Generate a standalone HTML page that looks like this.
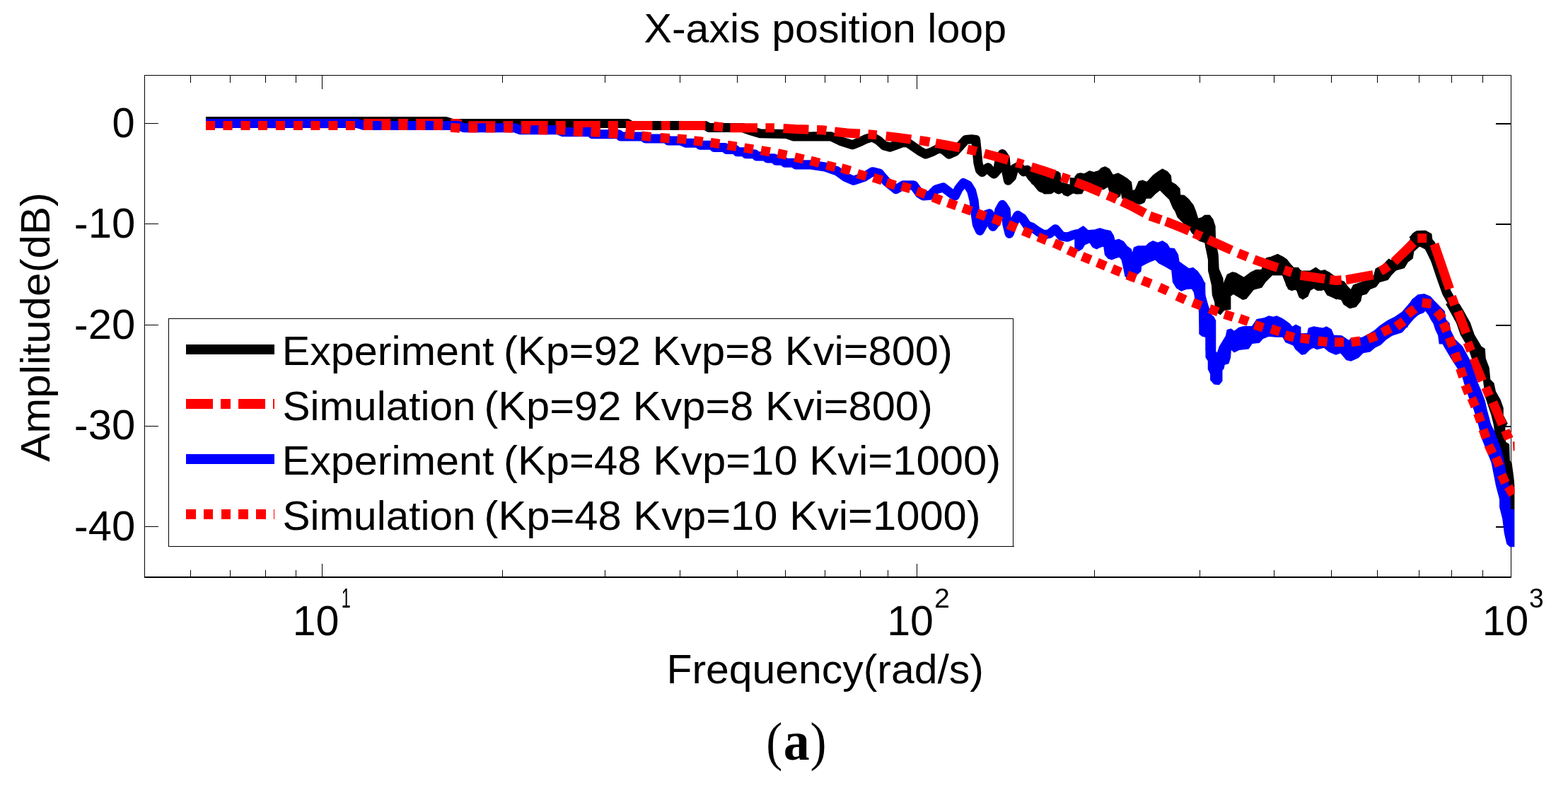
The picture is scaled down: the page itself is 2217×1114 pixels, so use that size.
<!DOCTYPE html>
<html lang="en"><head><meta charset="utf-8"><title>X-axis position loop</title>
<style>html,body{margin:0;padding:0;background:#fff;overflow:hidden}svg{display:block}text{font-family:"Liberation Sans", Arial, Helvetica, sans-serif;fill:#000}</style></head><body>
<svg width="2217" height="1114" viewBox="0 0 2217 1114">
<rect x="0" y="0" width="2217" height="1114" fill="#fff"/>
<g stroke="#000" fill="none" shape-rendering="crispEdges">
<path stroke-width="1" d="M204.5,816.0 V106.5 H2136.5 V816.0"/>
<path stroke-width="2" d="M204.0,816.0 H2137.0"/>
<path stroke-width="1" d="M269.5,106.5 v10 M269.5,816.0 v-10.5 M325.5,106.5 v10 M325.5,816.0 v-10.5 M375.5,106.5 v10 M375.5,816.0 v-10.5 M418.5,106.5 v10 M418.5,816.0 v-10.5 M455.5,106.5 v19 M455.5,816.0 v-19.5 M710.5,106.5 v10 M710.5,816.0 v-10.5 M855.5,106.5 v10 M855.5,816.0 v-10.5 M961.5,106.5 v10 M961.5,816.0 v-10.5 M1042.5,106.5 v10 M1042.5,816.0 v-10.5 M1110.5,106.5 v10 M1110.5,816.0 v-10.5 M1166.5,106.5 v10 M1166.5,816.0 v-10.5 M1216.5,106.5 v10 M1216.5,816.0 v-10.5 M1255.5,106.5 v10 M1255.5,816.0 v-10.5 M1296.5,106.5 v19 M1296.5,816.0 v-19.5 M1547.5,106.5 v10 M1547.5,816.0 v-10.5 M1696.5,106.5 v10 M1696.5,816.0 v-10.5 M1801.5,106.5 v10 M1801.5,816.0 v-10.5 M1882.5,106.5 v10 M1882.5,816.0 v-10.5 M1947.5,106.5 v10 M1947.5,816.0 v-10.5 M2006.5,106.5 v10 M2006.5,816.0 v-10.5 M2052.5,106.5 v10 M2052.5,816.0 v-10.5 M2096.5,106.5 v10 M2096.5,816.0 v-10.5 M204.5,174.5 h19.5 M204.5,316.5 h19.5 M204.5,459.5 h19.5 M204.5,602.5 h19.5 M204.5,744.5 h19.5"/>
<path stroke-width="2" d="M2137.0,175.0 h-22 M2137.0,317.0 h-22 M2137.0,460.0 h-22 M2137.0,603.0 h-22 M2137.0,745.0 h-22"/>
</g>
<defs><clipPath id="c"><rect x="204.5" y="106.5" width="1937.0" height="709.5"/></clipPath></defs>
<g clip-path="url(#c)" stroke-linejoin="round">
<path fill="none" stroke="#000" stroke-width="13.1" d="M291.0,171.5 L630.0,171.5 L640.0,174.5 L800.0,174.5 L887.5,174.5 L892.5,177.5 L997.4,177.5 L1002.4,180.5 L1049.9,180.5 L1062.4,185.0 L1074.9,188.7 L1112.4,189.5 L1122.4,193.0 L1147.3,193.0 L1150.0,192.9 L1175.0,192.9 L1190.1,200.1 L1205.1,204.8 L1216.8,200.1 L1223.5,196.8 L1233.5,193.7 L1241.8,198.4 L1250.2,205.9 L1258.5,208.1 L1266.9,205.1 L1275.2,201.8 L1283.6,201.8 L1291.9,207.6 L1300.3,213.4 L1308.6,218.0 L1318.6,214.3 L1329.5,208.4 L1335.3,212.6 L1342.0,218.1 L1350.4,214.3 L1358.7,205.1 L1365.4,197.6 L1373.7,196.8 L1379.6,197.6 L1381.3,213.4 L1382.9,230.1 L1385.4,240.2 L1388.8,243.5 L1392.9,239.3 L1397.1,236.8 L1401.3,242.7 L1405.5,246.0 L1410.5,240.2 L1413.8,223.5 L1417.2,217.6 L1421.3,223.5 L1423.0,243.5 L1425.5,255.2 L1430.5,250.2 L1433.9,238.5 L1440.5,235.2 L1447.2,242.7 L1452.2,240.2 L1458.9,250.2 L1465.6,256.9 L1472.3,265.2 L1477.3,266.9 L1482.3,261.9 L1489.0,261.9 L1496.5,267.7 L1502.3,265.2 L1509.0,270.2 L1517.3,266.0 L1524.0,258.5"/>
<path fill="#000" stroke="#000" stroke-width="1.5" d="M1453.8,245.4 L1459.2,240.0 L1495.3,242.7 L1498.9,245.4 L1499.8,258.0 L1513.4,261.7 L1513.4,251.7 L1522.4,252.6 L1517.9,265.3 L1531.4,269.8 L1529.6,273.4 L1522.4,273.8 L1517.0,272.5 L1509.8,277.0 L1504.3,275.2 L1501.6,271.6 L1497.1,273.8 L1491.7,269.8 L1486.3,273.4 L1476.4,273.8 L1470.1,268.0 L1468.3,262.6 L1459.2,259.8 L1455.6,251.7Z"/>
<path fill="#000" stroke="#000" stroke-width="1.5" d="M1520.0,250.1 L1523.3,245.9 L1527.5,245.1 L1533.4,245.9 L1540.0,242.1 L1546.7,243.7 L1553.4,241.7 L1557.6,237.6 L1562.6,235.9 L1568.4,239.2 L1573.4,247.6 L1580.9,245.1 L1586.8,248.4 L1593.5,252.6 L1599.3,257.6 L1601.0,270.1 L1605.2,268.5 L1610.2,256.8 L1615.2,255.1 L1621.9,257.6 L1630.2,248.4 L1636.9,243.4 L1643.6,239.2 L1650.2,242.6 L1655.2,248.4 L1656.1,257.6 L1661.9,260.9 L1667.8,266.8 L1668.6,276.0 L1674.4,276.5 L1680.3,281.8 L1687.0,290.2 L1690.3,298.5 L1693.7,309.4 L1699.5,307.7 L1703.7,304.4 L1710.3,304.4 L1714.5,310.2 L1717.0,320.2 L1718.7,341.9 L1720.4,355.3 L1722.9,385.8 L1709.5,385.8 L1708.7,367.0 L1705.3,350.3 L1703.7,341.9 L1695.3,338.6 L1688.6,331.9 L1685.3,328.6 L1680.3,320.2 L1675.3,316.9 L1670.3,311.9 L1665.3,306.9 L1661.9,298.5 L1658.6,293.5 L1653.6,281.8 L1646.9,275.1 L1640.2,268.5 L1633.5,273.5 L1626.9,280.1 L1620.2,280.1 L1617.7,286.0 L1611.8,288.5 L1603.5,286.8 L1593.5,283.5 L1586.8,280.1 L1585.1,268.5 L1583.4,276.8 L1576.8,281.0 L1570.1,275.1 L1566.8,263.4 L1560.1,267.6 L1553.4,266.8 L1536.7,266.8 L1530.0,270.1 L1525.0,273.5 L1520.0,273.5Z"/>
<path fill="#000" stroke="#000" stroke-width="1.5" d="M1714.5,310.0 L1717.9,320.0 L1717.9,335.0 L1720.4,351.7 L1722.0,360.1 L1722.9,380.1 L1728.7,393.5 L1729.6,406.8 L1731.2,398.5 L1735.4,388.5 L1742.1,385.1 L1747.1,386.0 L1758.8,392.7 L1768.8,385.1 L1775.5,381.8 L1783.8,381.8 L1790.5,365.1 L1797.2,363.4 L1806.4,359.8 L1813.9,363.4 L1818.9,366.8 L1825.6,375.1 L1828.9,378.5 L1835.6,378.8 L1838.9,383.5 L1852.3,383.5 L1860.6,378.5 L1867.3,383.5 L1872.3,382.1 L1879.0,385.1 L1885.7,390.1 L1890.0,391.8 L1890.0,422.7 L1877.3,416.9 L1872.3,408.5 L1869.0,410.2 L1862.3,410.2 L1857.3,406.8 L1852.3,410.2 L1848.9,418.5 L1842.3,422.7 L1837.2,420.2 L1835.6,411.9 L1830.6,408.5 L1825.6,410.2 L1818.9,403.5 L1817.2,393.5 L1813.9,388.5 L1798.8,388.5 L1788.8,398.5 L1783.8,406.0 L1772.1,409.3 L1762.1,421.9 L1757.1,423.2 L1743.7,415.2 L1739.6,418.5 L1739.6,436.9 L1730.4,438.6 L1725.4,444.4 L1718.7,440.2 L1717.9,426.9 L1714.5,416.9 L1713.7,403.5 L1708.7,381.8 L1708.7,360.1 L1705.3,350.1 L1705.3,343.4 L1695.3,340.1 L1687.0,330.0 L1680.3,320.0 L1670.3,310.0Z"/>
<path fill="#000" stroke="#000" stroke-width="1.5" d="M1800.0,363.4 L1806.7,360.1 L1813.4,365.1 L1818.4,366.8 L1825.0,375.1 L1828.4,381.8 L1835.1,379.8 L1840.1,383.5 L1853.4,383.5 L1860.1,379.3 L1866.8,383.5 L1873.5,382.2 L1881.8,388.5 L1886.8,393.5 L1900.2,398.5 L1905.2,405.2 L1910.2,410.2 L1913.5,403.5 L1916.9,401.9 L1941.9,393.5 L1945.3,380.1 L1955.3,375.1 L1963.6,366.5 L1967.0,368.5 L1993.7,340.1 L1997.0,330.9 L2003.7,326.7 L2015.4,326.4 L2023.7,330.9 L2024.6,338.4 L2028.8,343.4 L2022.1,365.1 L2015.4,351.8 L2007.0,347.6 L1998.7,355.1 L1997.0,365.1 L1990.3,370.1 L1985.3,378.5 L1973.7,381.8 L1967.0,388.5 L1962.0,395.2 L1950.3,398.5 L1945.3,405.2 L1936.9,408.5 L1931.9,415.2 L1925.2,416.9 L1923.6,425.2 L1916.9,433.6 L1908.5,435.6 L1900.2,430.2 L1896.8,423.6 L1890.2,421.9 L1883.5,419.4 L1876.8,416.9 L1871.8,408.5 L1865.1,410.2 L1858.4,406.9 L1851.8,410.2 L1848.4,418.6 L1841.7,422.7 L1835.9,416.9 L1833.4,408.5 L1826.7,410.2 L1821.7,408.5 L1816.7,396.8 L1813.4,388.5 L1800.0,388.5Z"/>
<path fill="#000" stroke="#000" stroke-width="1.5" d="M2063.0,430.0 L2069.1,440.0 L2078.3,456.7 L2084.1,473.4 L2094.1,490.1 L2099.1,493.4 L2100.0,506.8 L2105.0,520.1 L2106.6,536.7 L2111.7,541.7 L2114.2,553.4 L2120.8,565.1 L2125.0,576.8 L2125.0,586.8 L2130.9,598.5 L2127.5,603.5 L2128.4,625.2 L2133.4,628.5 L2134.2,651.9 L2136.7,653.6 L2139.2,672.0 L2141.0,687.0 L2141.0,720.0 L2134.5,720.0 L2134.2,705.8 L2130.9,687.0 L2129.2,670.3 L2127.5,653.6 L2122.5,636.9 L2117.5,626.9 L2114.2,613.5 L2112.5,600.2 L2109.2,586.8 L2100.8,561.7 L2097.5,536.7 L2081.6,506.8 L2075.8,490.1 L2065.7,473.4 L2059.9,456.7 L2050.7,440.0 L2045.0,430.0Z"/>
<path fill="none" stroke="#000" stroke-width="13.1" d="M1997.0,340.1 L2003.7,333.4 L2010.4,333.4 L2022.1,350.1 L2030.4,370.1 L2037.1,390.2 L2045.4,413.5 L2053.8,428.6 L2059.1,440.0 L2070.7,461.7"/>
<path fill="none" stroke="#f00" stroke-width="13.1" d="M291.4,174.6 L329.4,174.6 M340.4,174.6 L354.4,174.6 M365.6,174.6 L403.6,174.6 M414.6,174.6 L428.6,174.6 M439.8,174.6 L477.8,174.6 M488.8,174.6 L502.8,174.6 M514.0,174.6 L552.0,174.6 M563.0,174.6 L577.0,174.6 M588.2,174.6 L626.2,174.6 M637.2,174.6 L648.0,174.6 L651.2,175.8 M662.4,177.7 L700.4,177.7 M711.4,177.7 L725.4,177.6 M736.6,177.6 L774.6,177.6 M785.6,177.6 L799.6,177.6 M810.8,177.6 L848.8,177.5 M859.8,177.5 L873.8,177.5 M885.0,177.5 L922.5,177.5 M935.0,177.5 L947.4,177.5 M960.0,177.5 L997.4,177.5 L997.5,177.5 M1009.2,178.6 L1022.2,179.8 M1032.4,180.7 L1071.0,180.7 M1082.4,180.7 L1094.9,180.7 M1107.5,181.5 L1124.9,182.5 L1143.4,183.1 M1155.0,183.5 L1162.3,183.7 L1168.4,184.5 M1180.0,185.9 L1197.3,188.0 L1215.8,189.1 M1227.5,189.8 L1233.6,190.2 L1239.6,190.9 M1252.6,192.5 L1269.8,194.5 L1288.2,197.0 M1300.2,198.5 L1307.3,199.5 L1314.4,200.8 M1322.9,202.4 L1337.3,205.0 L1337.5,205.0 L1357.1,208.9 M1368.0,211.1 L1375.0,212.5 L1380.7,214.0 M1391.8,217.0 L1407.5,221.2 L1425.6,226.4 M1436.9,229.6 L1442.4,231.2 L1446.7,232.5 M1458.1,236.0 L1474.9,241.2 L1491.7,247.0 M1500.7,250.1 L1507.4,252.4 L1511.6,254.0 M1520.8,257.5 L1539.9,264.9 L1556.5,272.0 M1565.9,275.9 L1572.4,278.7 L1578.9,281.7 M1586.0,284.9 L1599.9,291.2 L1618.8,301.6 M1625.7,305.2 L1641.6,310.8 M1648.2,313.1 L1650.0,313.7 L1675.0,323.7 L1681.4,326.6 M1688.3,329.7 L1698.8,334.5 M1708.3,338.7 L1724.9,346.2 L1741.3,353.6 M1750.7,357.8 L1763.9,363.1 M1773.1,366.8 L1774.9,367.5 L1799.9,376.2 L1806.5,378.4 M1815.6,381.5 L1821.4,383.5 L1826.5,385.3 M1838.7,389.3 L1873.2,394.3 M1880.2,395.3 L1888.5,396.5 L1896.7,395.9 M1903.1,395.4 L1905.2,395.2 L1941.5,388.6 M1951.8,383.3 L1957.0,380.6 L1963.2,376.0 M1971.1,370.1 L1998.7,343.4 M2004.2,336.7 L2017.2,336.7 M2027.9,345.1 L2049.6,408.5 M2052.4,419.1 L2056.8,431.3 M2061.4,440.3 L2073.0,471.0 M2075.0,484.0 L2079.8,496.0 M2082.4,506.8 L2095.8,538.5 M2100.7,547.5 L2105.9,559.5 M2110.8,568.6 L2124.2,600.3 M2128.3,608.5 L2133.5,620.5 M2145.3,624.0 L2146.3,637.0"/>
<path fill="none" stroke="#00f" stroke-width="13.1" d="M291.0,174.5 L505.0,174.5 L515.0,177.5 L648.0,177.5 L656.0,180.8 L728.0,180.8 L736.0,183.8 L789.0,183.8 L796.0,186.8 L835.0,186.5 L837.5,189.7 L875.0,189.7 L877.5,193.0 L910.0,193.0 L912.4,196.0 L942.4,196.0 L944.9,199.0 L962.4,199.0 L969.9,202.2 L987.4,202.2 L989.9,205.2 L1007.4,205.2 L1009.9,208.5 L1024.9,208.5 L1027.4,211.4 L1039.9,211.4 L1042.4,214.7 L1052.4,214.7 L1054.9,217.7 L1067.4,217.7 L1069.9,220.9 L1082.4,220.9 L1084.9,223.9 L1094.9,223.9 L1097.4,227.2 L1107.4,227.2 L1109.9,230.2 L1122.4,230.2 L1124.9,232.9 L1147.3,232.9 L1150.0,233.5 L1166.7,236.0 L1183.4,241.8 L1195.1,250.2 L1206.8,255.2 L1221.8,250.2 L1233.5,242.7 L1243.5,245.2 L1253.5,256.9 L1266.9,267.7 L1276.9,261.9 L1291.9,261.9 L1300.3,273.6 L1305.3,276.9 L1315.3,276.1 L1323.7,267.7 L1333.7,264.9 L1343.7,272.7 L1350.4,276.9 L1355.4,266.9 L1362.1,258.5 L1368.7,261.9 L1373.7,270.2 L1377.1,283.6 L1378.8,300.3 L1381.3,317.0 L1385.4,326.2 L1390.4,317.0 L1393.8,303.6 L1398.8,301.9 L1401.3,315.3 L1403.8,320.3 L1408.8,313.6 L1413.0,296.9 L1417.2,289.4 L1422.2,296.9 L1423.8,317.0 L1427.2,330.3 L1432.2,317.0 L1438.9,304.4 L1445.5,308.6 L1452.2,318.6 L1458.9,321.1 L1467.2,327.0 L1475.6,332.0 L1483.9,330.3 L1492.3,323.7 L1500.6,333.7 L1509.0,335.3 L1517.3,332.0 L1524.0,330.3"/>
<path fill="#00f" stroke="#00f" stroke-width="1.5" d="M1520.0,326.7 L1525.0,324.2 L1531.7,320.0 L1538.4,325.9 L1548.4,325.0 L1555.1,323.0 L1561.7,325.0 L1570.1,326.7 L1574.3,333.4 L1575.9,340.1 L1581.8,338.4 L1588.5,341.7 L1593.5,348.4 L1599.3,352.6 L1601.0,360.1 L1603.5,350.1 L1608.5,348.1 L1620.2,348.1 L1625.2,343.4 L1630.2,340.9 L1636.9,343.4 L1643.6,340.9 L1650.2,345.1 L1653.6,350.9 L1660.3,351.7 L1665.3,360.1 L1666.9,370.1 L1675.3,376.0 L1681.1,380.1 L1687.0,378.8 L1692.8,383.5 L1698.7,391.8 L1702.8,400.2 L1703.7,418.5 L1707.8,431.9 L1712.0,445.2 L1717.0,451.9 L1717.9,495.8 L1705.3,495.8 L1705.3,476.1 L1701.2,475.3 L1697.0,470.3 L1695.3,433.6 L1690.3,423.5 L1688.6,413.5 L1685.3,407.7 L1677.0,408.5 L1670.3,411.0 L1663.6,406.8 L1658.6,398.5 L1656.9,381.8 L1646.9,376.0 L1638.6,371.8 L1633.5,366.8 L1623.5,370.9 L1613.5,376.0 L1612.7,383.5 L1606.8,388.5 L1593.5,392.7 L1591.0,390.1 L1588.5,376.8 L1586.0,366.8 L1582.6,363.1 L1576.8,364.8 L1571.8,366.8 L1566.8,365.1 L1562.6,360.1 L1560.9,348.1 L1556.7,348.7 L1550.1,351.7 L1545.0,349.2 L1540.9,342.6 L1533.4,345.9 L1530.0,351.7 L1525.0,354.7 L1520.0,350.1Z"/>
<path fill="#00f" stroke="#00f" stroke-width="1.5" d="M1703.5,400.0 L1703.5,416.7 L1706.8,430.1 L1710.2,443.4 L1716.0,448.4 L1718.5,453.4 L1718.5,496.8 L1721.0,500.2 L1724.4,490.2 L1728.5,483.5 L1733.5,475.1 L1735.2,466.8 L1740.2,465.1 L1745.2,468.5 L1751.9,463.4 L1758.6,461.8 L1770.3,461.8 L1777.0,451.8 L1787.0,450.1 L1793.7,447.1 L1800.3,448.4 L1805.3,447.1 L1812.0,450.1 L1817.0,453.4 L1822.9,457.6 L1827.0,462.6 L1832.1,459.3 L1838.7,462.6 L1838.7,471.8 L1848.8,471.8 L1850.4,464.3 L1857.1,462.1 L1865.4,463.4 L1870.5,464.3 L1875.5,462.1 L1882.1,466.0 L1885.5,474.3 L1897.2,475.1 L1907.2,481.8 L1910.5,478.5 L1925.6,477.6 L1933.9,473.5 L1942.3,468.5 L1952.3,460.1 L1962.3,453.4 L1972.3,448.4 L1982.3,441.7 L1990.0,433.4 L1990.0,461.8 L1979.0,466.8 L1969.0,473.5 L1959.0,480.1 L1952.3,486.8 L1943.9,491.0 L1937.2,496.8 L1927.2,498.5 L1920.6,505.2 L1910.5,509.9 L1903.9,508.5 L1895.5,498.5 L1888.8,501.0 L1878.8,496.8 L1872.1,491.0 L1862.1,493.5 L1857.1,491.0 L1852.1,493.5 L1845.4,500.2 L1840.4,501.0 L1832.1,493.5 L1828.7,487.7 L1817.9,483.5 L1813.7,476.0 L1803.7,476.0 L1793.7,475.1 L1785.3,478.5 L1780.3,484.3 L1770.3,485.2 L1765.3,492.7 L1751.9,494.3 L1745.2,497.7 L1740.2,493.5 L1739.4,505.2 L1736.9,513.5 L1731.0,515.2 L1730.2,520.2 L1727.7,523.6 L1727.7,538.6 L1723.5,543.6 L1716.8,542.8 L1711.8,536.9 L1711.8,528.6 L1708.5,521.9 L1708.5,510.2 L1705.2,505.2 L1705.2,476.0 L1700.1,475.1 L1696.0,471.8 L1696.0,438.4 L1691.8,421.7 L1688.5,410.0 L1688.5,400.0Z"/>
<path fill="#00f" stroke="#00f" stroke-width="1.5" d="M1970.3,450.3 L1980.3,445.3 L1985.3,438.6 L1993.7,428.6 L1997.0,423.6 L2005.4,416.9 L2013.7,416.0 L2022.1,419.4 L2028.8,426.9 L2035.4,433.6 L2042.1,440.3 L2043.8,451.9 L2048.8,457.0 L2050.5,467.0 L2055.5,477.0 L2058.8,485.8 L2035.4,485.8 L2033.8,473.7 L2030.4,467.0 L2027.1,457.0 L2023.7,451.9 L2020.4,445.3 L2015.4,438.6 L2012.1,441.9 L2005.4,444.4 L1998.7,450.3 L1988.7,462.0 L1982.0,469.5 L1968.6,473.7Z"/>
<path fill="#00f" stroke="#00f" stroke-width="1.5" d="M2033.0,436.0 L2040.7,450.0 L2049.9,473.4 L2067.4,490.1 L2076.6,506.8 L2084.1,528.3 L2089.1,541.7 L2094.1,553.4 L2099.1,566.8 L2102.5,581.8 L2107.5,600.2 L2112.5,610.2 L2117.5,623.5 L2122.5,636.9 L2125.8,650.2 L2129.2,670.3 L2133.5,687.0 L2135.0,705.0 L2135.5,720.5 L2141.0,720.5 L2141.0,772.5 L2135.0,772.5 L2130.9,768.6 L2127.5,753.6 L2125.0,733.6 L2120.8,716.9 L2120.8,705.8 L2115.8,687.0 L2112.5,670.3 L2109.2,653.6 L2102.5,636.9 L2095.8,620.2 L2090.8,600.2 L2084.1,578.4 L2077.4,561.7 L2070.7,541.7 L2067.4,530.0 L2052.4,506.8 L2042.4,490.1 L2034.0,473.4 L2028.2,456.7 L2019.0,440.0 L2016.0,436.0Z"/>
<path fill="none" stroke="#00f" stroke-width="13.1" d="M2030.7,446.7 L2040.7,473.4"/>
<path fill="none" stroke="#f00" stroke-width="13.1" d="M291.0,177.5 L304.0,177.5 M315.5,177.5 L328.5,177.5 M340.5,177.5 L353.5,177.5 M365.0,177.5 L378.0,177.5 M389.9,177.5 L402.9,177.5 M414.9,177.5 L427.9,177.5 M439.4,177.5 L452.4,177.5 M464.4,177.5 L477.4,177.5 M488.9,177.5 L501.9,177.5 M513.9,177.5 L526.9,177.5 M539.4,177.5 L552.4,177.5 M563.4,177.5 L576.4,177.5 M588.4,177.5 L601.4,177.5 M613.0,176.9 L626.0,177.7 M637.2,180.2 L650.2,181.2 M662.3,180.9 L675.3,180.9 M687.0,180.9 L700.0,180.9 M712.1,180.7 L725.1,181.1 M737.1,182.2 L750.1,183.0 M761.3,183.6 L774.3,184.0 M786.4,183.5 L799.4,184.1 M810.9,185.6 L823.9,186.4 M835.6,186.4 L848.6,187.2 M860.7,188.4 L873.7,189.2 M884.0,189.2 L897.0,190.4 M907.4,192.1 L920.4,193.5 M933.6,194.6 L946.6,195.6 M957.5,195.9 L970.5,197.1 M981.0,198.7 L993.8,200.3 M1004.6,201.6 L1017.4,203.4 M1028.6,205.2 L1041.4,207.2 M1052.2,209.0 L1065.0,211.0 M1076.0,212.6 L1088.8,214.8 M1099.6,216.7 L1112.4,219.3 M1123.7,222.2 L1136.3,225.2 M1146.0,227.1 L1158.6,230.3 M1168.5,233.5 L1181.1,236.5 M1189.7,237.6 L1202.3,241.2 M1212.4,245.5 L1224.8,249.3 M1234.8,251.1 L1247.2,254.9 M1253.6,258.1 L1266.0,261.9 M1274.8,263.2 L1287.2,266.8 M1296.2,270.2 L1308.4,274.6 M1318.9,278.9 L1331.1,283.5 M1340.1,286.5 L1352.3,290.9 M1361.4,294.0 L1373.6,298.4 M1381.4,301.5 L1393.6,305.9 M1403.9,308.9 L1416.1,313.5 M1425.2,317.4 L1437.2,322.4 M1446.4,326.2 L1458.4,331.2 M1467.7,335.0 L1479.7,339.8 M1490.3,343.6 L1502.1,348.8 M1510.3,353.3 L1522.1,358.9 M1530.1,362.4 L1542.1,367.4 M1551.4,371.1 L1563.4,376.1 M1572.6,379.9 L1584.6,384.9 M1593.8,388.8 L1606.0,393.4 M1615.1,396.3 L1627.3,401.1 M1639.1,406.0 L1650.9,411.4 M1664.1,418.5 L1675.9,423.9 M1686.4,427.7 L1698.6,432.3 M1710.1,436.5 L1722.3,440.9 M1731.2,444.2 L1743.6,448.2 M1752.6,450.2 L1764.8,454.6 M1773.8,459.2 L1786.2,463.2 M1797.1,465.0 L1809.5,469.0 M1817.1,473.5 L1829.7,477.1 M1838.7,477.7 L1851.5,479.7 M1863.6,482.1 L1876.6,483.5 M1887.0,483.7 L1900.0,483.7 M1910.5,483.7 L1923.3,481.9 M1934.2,479.2 L1946.4,474.8 M1954.5,469.9 L1966.1,464.1 M1974.3,461.7 L1984.7,453.9 M1990.3,444.3 L2000.5,436.3 M2010.6,427.8 L2023.6,429.4 M2031.7,439.8 L2039.7,450.2 M2040.7,456.5 L2045.7,468.5 M2049.2,477.3 L2053.8,489.5 M2057.0,499.0 L2061.2,511.2 M2064.5,520.6 L2068.7,533.0 M2071.7,544.2 L2076.5,556.2 M2080.7,562.6 L2085.9,574.6 M2089.4,584.2 L2093.8,596.4 M2096.9,607.1 L2101.3,619.3 M2104.7,629.2 L2110.3,641.0 M2114.9,646.6 L2120.1,658.6 M2123.1,670.9 L2128.5,682.7 M2132.5,687.9 L2139.3,699.1"/>
</g>
<g shape-rendering="crispEdges">
<rect x="238.5" y="450.5" width="1194" height="322" fill="#fff" stroke="#000" stroke-width="1"/>
<path stroke="#000" stroke-width="1" d="M238,772.5 H1433.5"/>
<g fill="none" stroke-width="14">
<path stroke="#000" d="M263,494 H388"/>
<path stroke="#f00" stroke-dasharray="38 11 13.5 11.5" d="M263,571.3 H388"/>
<path stroke="#00f" d="M263,649 H388"/>
<path stroke="#f00" stroke-dasharray="13.5 11.3" d="M263,726.5 H388"/>
</g></g>
<text font-size="58"><tspan x="398.7" y="516.2" textLength="299.66" lengthAdjust="spacingAndGlyphs">Experiment</tspan> <tspan x="712.0" y="516.2" textLength="634.88" lengthAdjust="spacingAndGlyphs">(Kp=92 Kvp=8 Kvi=800)</tspan></text>
<text font-size="58"><tspan x="399.4" y="593.7" textLength="273.07" lengthAdjust="spacingAndGlyphs">Simulation</tspan> <tspan x="684.5" y="593.7" textLength="634.27" lengthAdjust="spacingAndGlyphs">(Kp=92 Kvp=8 Kvi=800)</tspan></text>
<text font-size="58"><tspan x="398.7" y="671.1" textLength="299.66" lengthAdjust="spacingAndGlyphs">Experiment</tspan> <tspan x="712.0" y="671.1" textLength="703.23" lengthAdjust="spacingAndGlyphs">(Kp=48 Kvp=10 Kvi=1000)</tspan></text>
<text font-size="58"><tspan x="399.4" y="748.5" textLength="273.07" lengthAdjust="spacingAndGlyphs">Simulation</tspan> <tspan x="684.5" y="748.5" textLength="702.22" lengthAdjust="spacingAndGlyphs">(Kp=48 Kvp=10 Kvi=1000)</tspan></text>
<text x="910.5" y="60.0" font-size="58" textLength="512.63" lengthAdjust="spacingAndGlyphs">X-axis position loop</text>
<text x="942.5" y="966.2" font-size="58" textLength="448.34" lengthAdjust="spacingAndGlyphs">Frequency(rad/s)</text>
<text x="0" y="0" font-size="58" textLength="380.81" lengthAdjust="spacingAndGlyphs" transform="translate(70,652.8) rotate(-90)">Amplitude(dB)</text>
<text x="158.6" y="194.0" font-size="59" textLength="32.13" lengthAdjust="spacingAndGlyphs">0</text>
<text x="104.7" y="335.9" font-size="59" textLength="86.57" lengthAdjust="spacingAndGlyphs">-10</text>
<text x="104.7" y="478.6" font-size="59" textLength="86.57" lengthAdjust="spacingAndGlyphs">-20</text>
<text x="104.7" y="621.0" font-size="59" textLength="86.57" lengthAdjust="spacingAndGlyphs">-30</text>
<text x="104.7" y="763.9" font-size="59" textLength="86.57" lengthAdjust="spacingAndGlyphs">-40</text>
<text font-size="59"><tspan x="413.7" y="897.8" textLength="65.87" lengthAdjust="spacingAndGlyphs">10</tspan><tspan x="482.7" y="859.2" textLength="12.99" lengthAdjust="spacingAndGlyphs" font-size="38">1</tspan></text>
<text font-size="59"><tspan x="1254.2" y="897.8" textLength="65.65" lengthAdjust="spacingAndGlyphs">10</tspan><tspan x="1321.0" y="859.2" textLength="21.89" lengthAdjust="spacingAndGlyphs" font-size="38">2</tspan></text>
<text font-size="59"><tspan x="2095.8" y="897.8" textLength="65.42" lengthAdjust="spacingAndGlyphs">10</tspan><tspan x="2161.9" y="859.2" textLength="20.68" lengthAdjust="spacingAndGlyphs" font-size="38">3</tspan></text>
<text font-size="76" style="font-family:'Liberation Serif','Times New Roman',serif"><tspan x="1083.2" y="1073.8" textLength="23" lengthAdjust="spacingAndGlyphs">(</tspan><tspan x="1107.8" y="1073.6" font-size="78" font-weight="bold" textLength="36.9" lengthAdjust="spacingAndGlyphs">a</tspan><tspan x="1145.6" y="1073.8" textLength="23" lengthAdjust="spacingAndGlyphs">)</tspan></text>
</svg></body></html>
